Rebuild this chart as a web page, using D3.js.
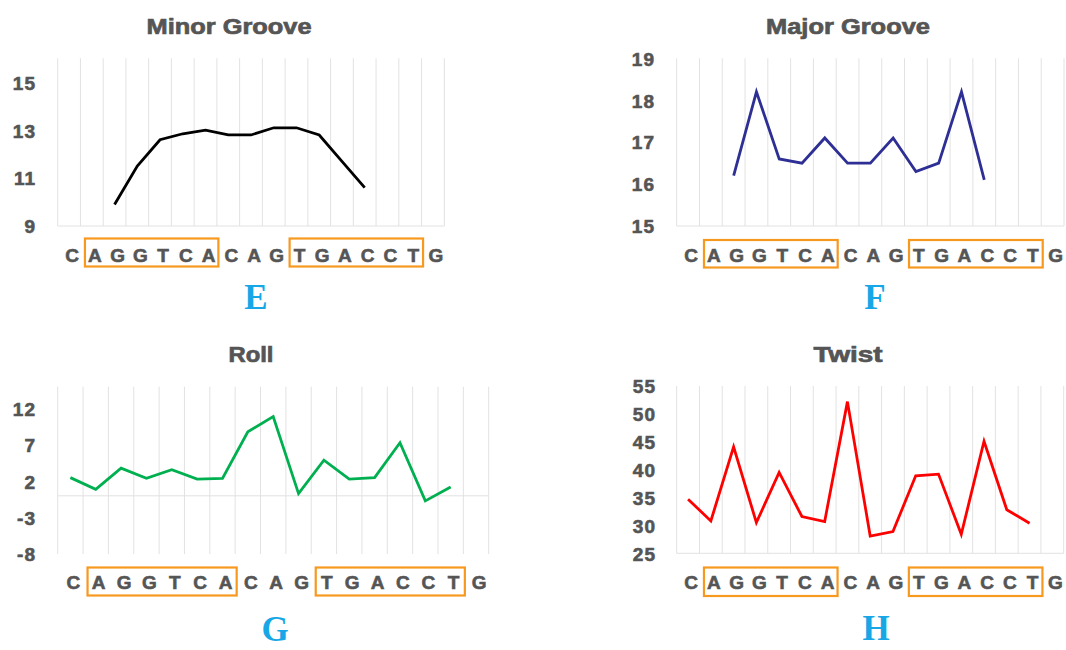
<!DOCTYPE html>
<html>
<head>
<meta charset="utf-8">
<script src="https://cdn.jsdelivr.net/npm/d3@7"></script>
<style>
  html, body { margin: 0; padding: 0; background: #ffffff; }
  svg { display: block; }
</style>
</head>
<body>
<svg id="chart" width="1066" height="650"></svg>
<script>
// ---------- data ----------
const sequence = ["C","A","G","G","T","C","A","C","A","G","T","G","A","C","C","T","G"];
// boxed half-sites (index ranges into sequence)
const boxes = [[1, 6], [10, 15]];

const minorGroove = [9.9, 11.5, 12.6, 12.85, 13.0, 12.8, 12.8, 13.1, 13.1, 12.8, 11.7, 10.6];
const minorStart = 2;
const minorTicks = [9, 11, 13, 15];

const majorGroove = [16.2, 18.2, 16.6, 16.5, 17.1, 16.5, 16.5, 17.1, 16.3, 16.5, 18.2, 16.1];
const majorStart = 2;
const majorTicks = [15, 16, 17, 18, 19];

const roll = [2.5, 0.9, 3.8, 2.4, 3.6, 2.3, 2.4, 8.8, 10.9, 0.3, 4.9, 2.3, 2.5, 7.3, -0.7, 1.2];
const rollStart = 0;
const rollTicks = [-8, -3, 2, 7, 12];

const twist = [34.7, 30.8, 44.1, 30.5, 39.5, 31.6, 30.7, 52.2, 28.1, 28.9, 38.9, 39.2, 28.4, 45.1, 32.8, 30.4];
const twistStart = 0;
const twistTicks = [25, 30, 35, 40, 45, 50, 55];

const titles = ["Minor Groove", "Major Groove", "Roll", "Twist"];
const panelLetters = ["E", "F", "G", "H"];

// ---------- layout ----------
const panels = [
  { title: titles[0], letter: panelLetters[0], values: minorGroove, start: minorStart, ticks: minorTicks,
    domain: [9, 16], color: "#000000",
    x0: 57.7, x1: 444.3, yTop: 58.3, yBot: 226, labelRight: 36,
    titleX: 229, titleY: 34, titleW: 165,
    seqY: 261.5, boxY0: 238.5, boxY1: 266.5, letterX: 256, letterY: 309 },
  { title: titles[1], letter: panelLetters[1], values: majorGroove, start: majorStart, ticks: majorTicks,
    domain: [15, 19], color: "#2E2F95",
    x0: 676.7, x1: 1064, yTop: 58.3, yBot: 226, labelRight: 655,
    titleX: 848, titleY: 34, titleW: 164,
    seqY: 261.5, boxY0: 240, boxY1: 267.5, letterX: 875, letterY: 309 },
  { title: titles[2], letter: panelLetters[2], values: roll, start: rollStart, ticks: rollTicks,
    domain: [-8, 15], color: "#00B050",
    x0: 57.7, x1: 488.7, yTop: 386.7, yBot: 554, labelRight: 36,
    titleX: 251, titleY: 362, titleW: 45,
    seqY: 589, boxY0: 567.5, boxY1: 595.5, letterX: 275, letterY: 641 },
  { title: titles[3], letter: panelLetters[3], values: twist, start: twistStart, ticks: twistTicks,
    domain: [25, 55], color: "#FF0000",
    x0: 676.7, x1: 1063.7, yTop: 386, yBot: 553.3, labelRight: 656,
    titleX: 848, titleY: 362, titleW: 69,
    seqY: 589, boxY0: 567.5, boxY1: 596, letterX: 876, letterY: 640 }
];

const svg = d3.select("#chart");
const textColor = "#555555";
const gridColor = "#E2E2E2";

panels.forEach(p => {
  const g = svg.append("g");
  const idx = d3.range(sequence.length);
  const x = d3.scaleBand().domain(idx).range([p.x0, p.x1]).padding(0);
  const y = d3.scaleLinear().domain(p.domain).range([p.yBot, p.yTop]);
  const step = x.step();

  // vertical gridlines at category boundaries
  const bounds = idx.map(i => x(i)).concat([x(sequence.length - 1) + step]);
  g.selectAll("line.grid").data(bounds).enter().append("line")
    .attr("class", "grid")
    .attr("x1", d => d).attr("x2", d => d)
    .attr("y1", y(p.domain[1])).attr("y2", y(p.domain[0]))
    .attr("stroke", gridColor).attr("stroke-width", 1);

  // horizontal axis line
  const axisVal = (p.domain[0] < 0 && p.domain[1] > 0) ? 0 : p.domain[0];
  g.append("line")
    .attr("x1", p.x0).attr("x2", p.x1)
    .attr("y1", y(axisVal)).attr("y2", y(axisVal))
    .attr("stroke", gridColor).attr("stroke-width", 1);

  // y axis labels
  const yAxis = d3.axisLeft(y).tickValues(p.ticks).tickSize(0).tickPadding(0).tickFormat(d => String(d));
  const ya = g.append("g").attr("transform", `translate(${p.labelRight},0)`).call(yAxis);
  ya.select(".domain").remove();
  ya.selectAll("text")
    .attr("fill", textColor)
    .attr("stroke", textColor)
    .attr("stroke-width", 0.6)
    .attr("font-family", "Liberation Sans, Arial, sans-serif")
    .attr("font-weight", "bold")
    .attr("font-size", "19px")
    .attr("letter-spacing", "1px")
    .attr("dy", "0.36em");

  // sequence letters along bottom
  const xAxis = d3.axisBottom(x).tickSize(0).tickPadding(0).tickFormat(i => sequence[i]);
  const xa = g.append("g").attr("transform", `translate(3,${p.seqY})`).call(xAxis);
  xa.select(".domain").remove();
  xa.selectAll("text")
    .attr("fill", textColor)
    .attr("stroke", textColor)
    .attr("stroke-width", 0.6)
    .attr("font-family", "Liberation Sans, Arial, sans-serif")
    .attr("font-weight", "bold")
    .attr("font-size", "19px")
    .attr("dy", "0");

  // orange boxes
  g.selectAll("rect.box").data(boxes).enter().append("rect")
    .attr("class", "box")
    .attr("x", d => x(d[0]) + 4.5)
    .attr("y", p.boxY0)
    .attr("width", d => x(d[1]) + step + 1.5 - (x(d[0]) + 4.5))
    .attr("height", p.boxY1 - p.boxY0)
    .attr("fill", "none")
    .attr("stroke", "#F7981F")
    .attr("stroke-width", 2.2);

  // data line
  const pts = p.values.map((v, i) => ({ i: i + p.start, v }));
  const line = d3.line().x(d => x(d.i) + step / 2).y(d => y(d.v));
  g.append("path").datum(pts)
    .attr("d", line)
    .attr("fill", "none")
    .attr("stroke", p.color)
    .attr("stroke-width", 2.8)
    .attr("stroke-linejoin", "miter");

  // title
  g.append("text")
    .attr("x", p.titleX).attr("y", p.titleY)
    .attr("text-anchor", "middle")
    .attr("fill", textColor)
    .attr("stroke", textColor)
    .attr("stroke-width", 0.7)
    .attr("font-family", "Liberation Sans, Arial, sans-serif")
    .attr("font-weight", "bold")
    .attr("font-size", "22px")
    .attr("textLength", p.titleW)
    .attr("lengthAdjust", "spacingAndGlyphs")
    .text(p.title);

  // panel letter
  g.append("text")
    .attr("x", p.letterX).attr("y", p.letterY)
    .attr("text-anchor", "middle")
    .attr("fill", "#18A7E6")
    .attr("font-family", "Liberation Serif, Times New Roman, serif")
    .attr("font-weight", "bold")
    .attr("font-size", "35px")
    .text(p.letter);
});
</script>
</body>
</html>
